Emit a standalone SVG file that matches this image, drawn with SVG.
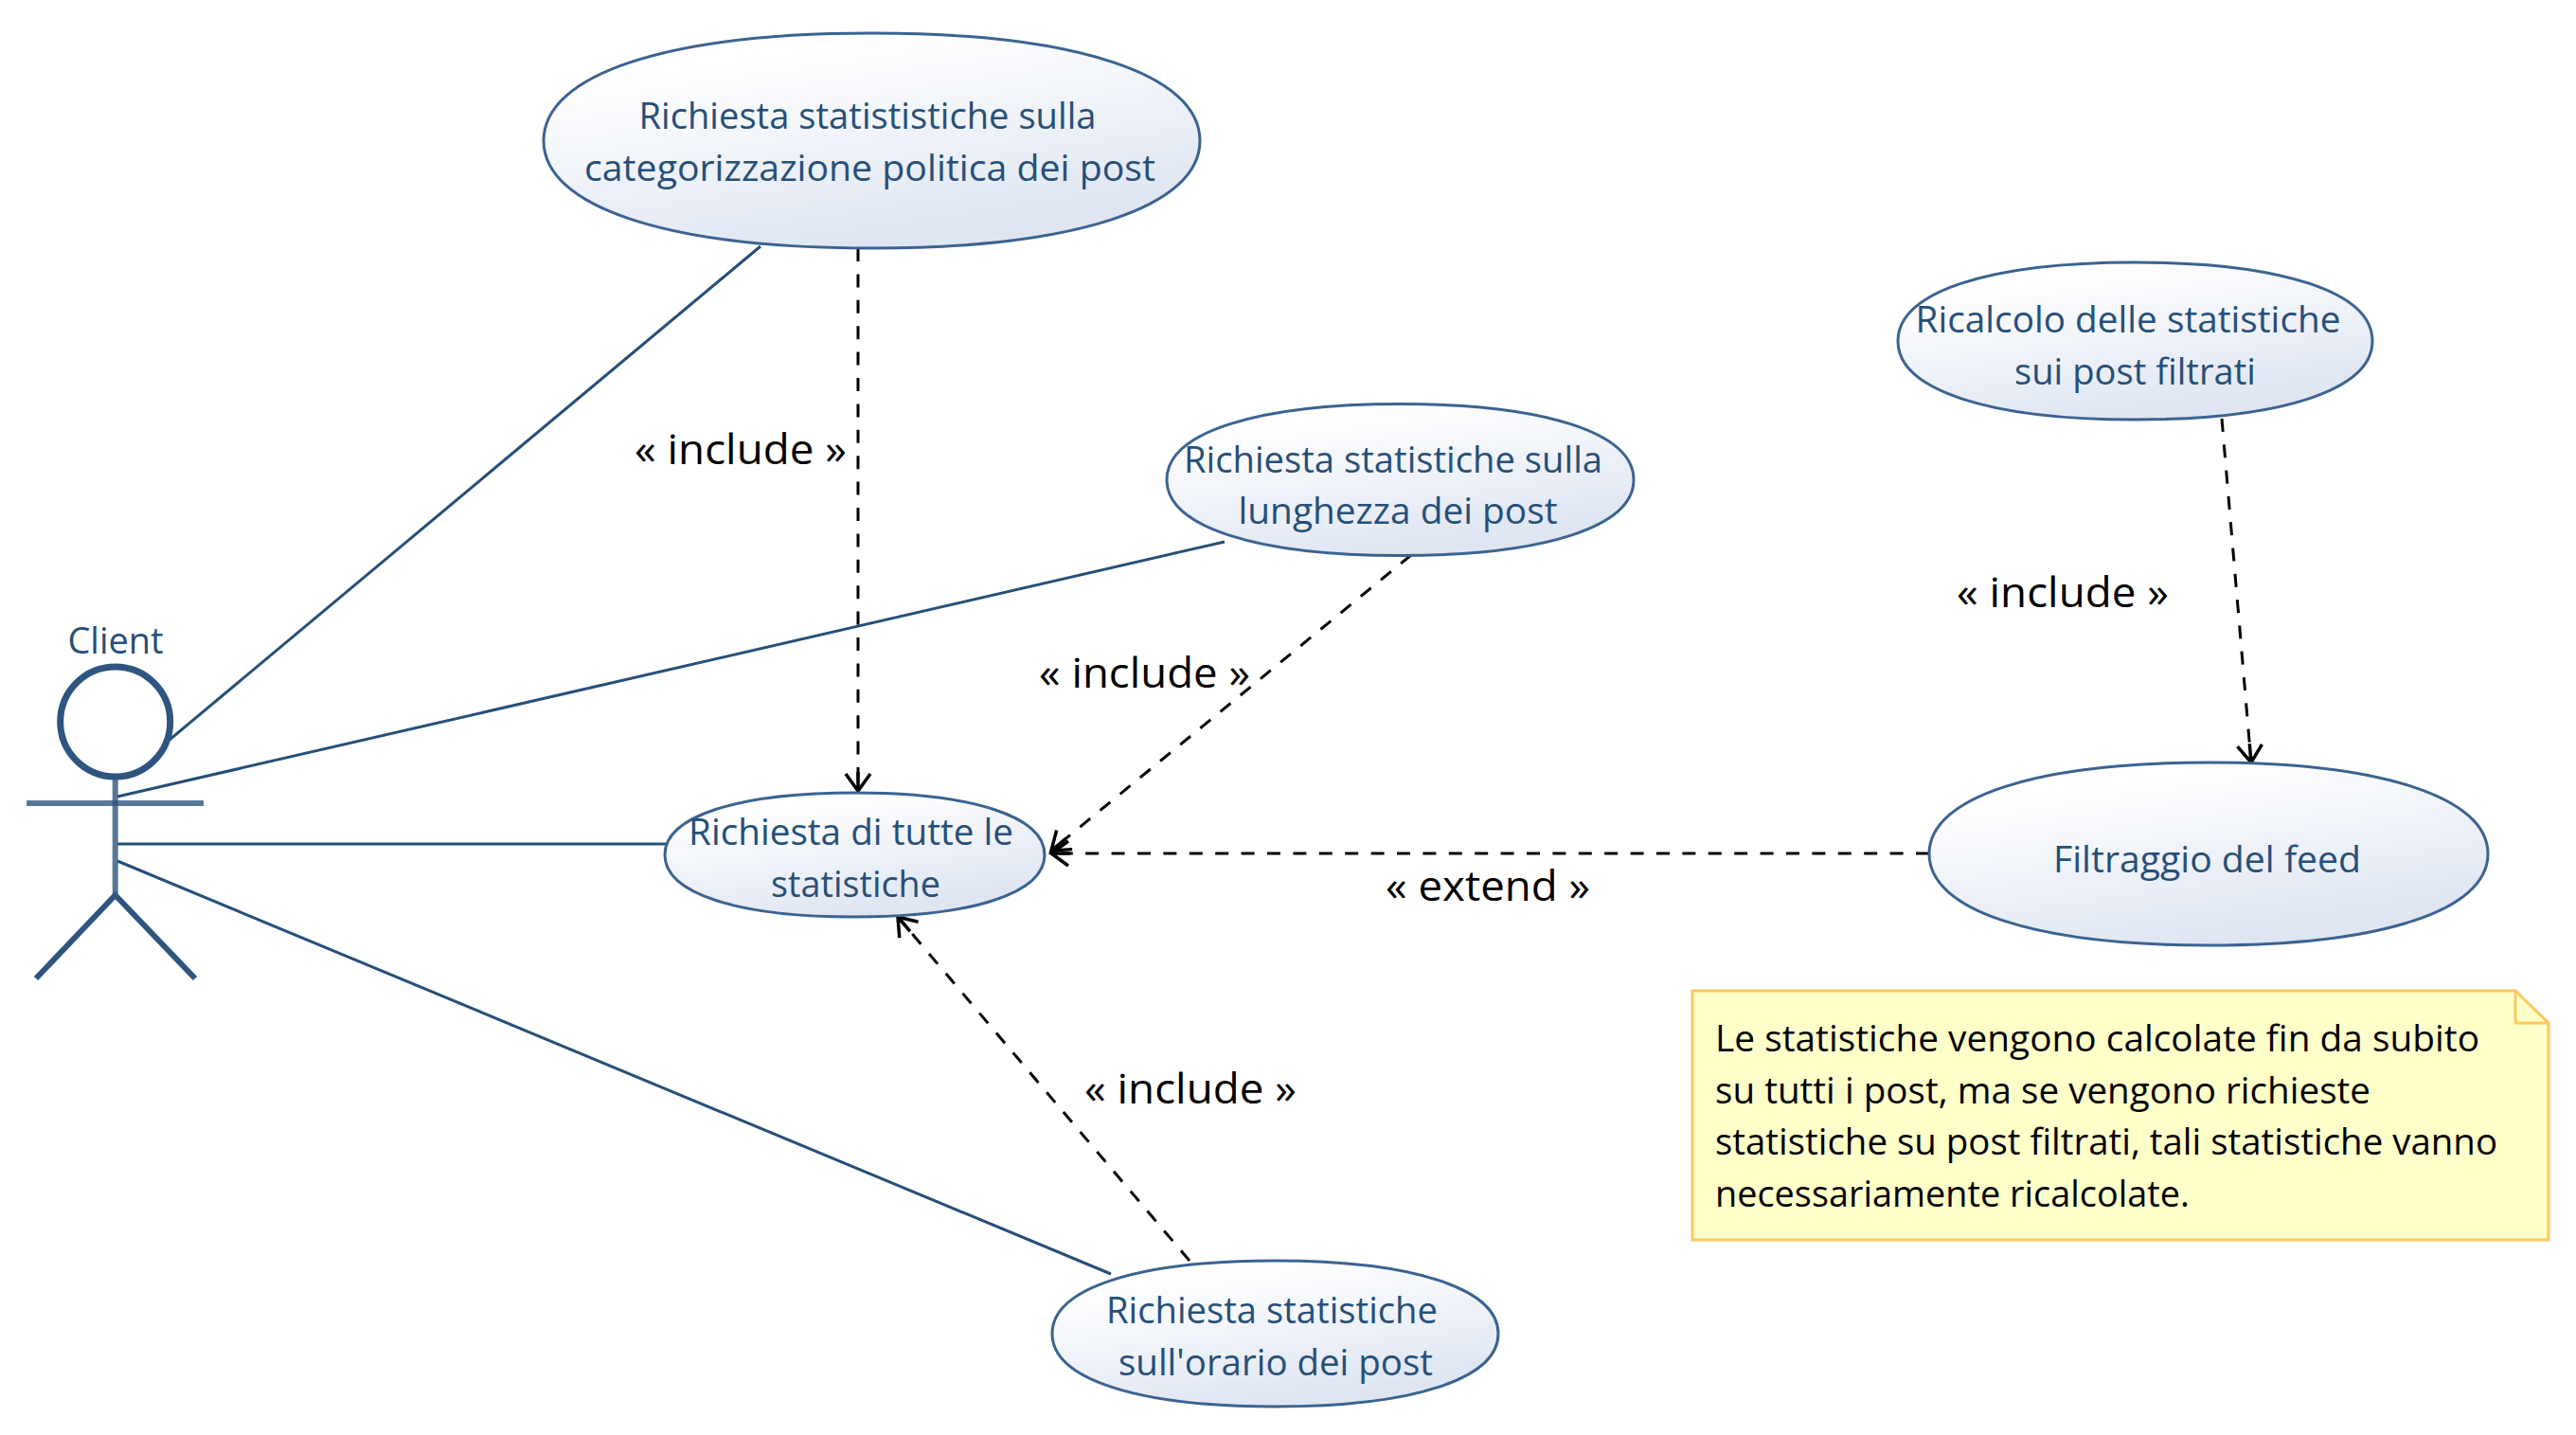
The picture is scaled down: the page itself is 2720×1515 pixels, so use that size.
<svg xmlns="http://www.w3.org/2000/svg" width="2720" height="1515" viewBox="0 0 2720 1515">
<style>
text{font-family:"Open Sans","Noto Sans","Liberation Sans",sans-serif;font-size:39px;fill:#264f78}
.lbl{font-size:44px;fill:#000}
.nt{fill:#000}
.uc{fill:url(#g);stroke:#3b6390;stroke-width:3}
.a{stroke:#264f78;stroke-width:3;fill:none}
.d{stroke:#000;stroke-width:3;fill:none;stroke-dasharray:14 13.4;marker-end:url(#o)}
.act{stroke:#2d5580;stroke-width:6;fill:none}
</style>
<defs>
<linearGradient id="g" x1="0.25" y1="0" x2="0.7" y2="1"><stop offset="0.1" stop-color="#fff"/><stop offset="0.9" stop-color="#dfe6f2"/></linearGradient>
<marker id="o" markerUnits="userSpaceOnUse" markerWidth="40" markerHeight="40" refX="20" refY="20" orient="auto" overflow="visible"><path d="M2,7L20,20L2,33M0,20H20" fill="none" stroke="#000" stroke-width="3.5"/></marker>
</defs>
<rect width="2720" height="1515" fill="#fff"/>
<g id="connectors">
<path class="a" d="M179,781L803,260"/>
<path class="a" d="M124,841L1293,572"/>
<path class="a" d="M124,891L704,891"/>
<path class="a" d="M124,909L1173,1345"/>
<path class="d" d="M906,262L906,835"/>
<path class="d" d="M1490,586L1110,898"/>
<path class="d" d="M2037,901L1110,901"/>
<path class="d" d="M2346,442L2377,805"/>
<path class="d" d="M1256,1331L948,968"/>
<text class="lbl" x="670" y="489.5" textLength="224" lengthAdjust="spacingAndGlyphs">« include »</text>
<text class="lbl" x="1097" y="725.5" textLength="223" lengthAdjust="spacingAndGlyphs">« include »</text>
<text class="lbl" x="2066" y="640.5" textLength="224" lengthAdjust="spacingAndGlyphs">« include »</text>
<text class="lbl" x="1145" y="1164.5" textLength="224" lengthAdjust="spacingAndGlyphs">« include »</text>
<text class="lbl" x="1463" y="950.5" textLength="216" lengthAdjust="spacingAndGlyphs">« extend »</text>
</g>
<g id="actor-client">
<circle class="act" style="stroke-width:7" cx="121.7" cy="762" r="58"/>
<path class="act" d="M121.7,820V945" opacity=".8"/>
<path class="act" d="M28,848H215" opacity=".8"/>
<path class="act" d="M38,1033L121.7,945L206,1033"/>
<text x="71.5" y="690" textLength="101" lengthAdjust="spacingAndGlyphs">Client</text>
</g>
<g id="uc-categorizzazione">
<path class="uc" d="M574,148.5C574,78.1 705.7,35 920.5,35C1135.3,35 1267,78.1 1267,148.5C1267,218.9 1135.3,262 920.5,262C705.7,262 574,218.9 574,148.5Z"/>
<text x="674.5" y="136" textLength="483" lengthAdjust="spacingAndGlyphs">Richiesta statististiche sulla</text>
<text x="617" y="191" textLength="603" lengthAdjust="spacingAndGlyphs">categorizzazione politica dei post</text>
</g>
<g id="uc-lunghezza">
<path class="uc" d="M1232,506.5C1232,456.9 1325.7,426.5 1478.5,426.5C1631.3,426.5 1725,456.9 1725,506.5C1725,556.1 1631.3,586.5 1478.5,586.5C1325.7,586.5 1232,556.1 1232,506.5Z"/>
<text x="1250" y="498.5" textLength="442" lengthAdjust="spacingAndGlyphs">Richiesta statistiche sulla</text>
<text x="1307.5" y="552.5" textLength="337" lengthAdjust="spacingAndGlyphs">lunghezza dei post</text>
</g>
<g id="uc-tutte">
<path class="uc" d="M702,902.5C702,861.9 778.2,837 902.5,837C1026.8,837 1103,861.9 1103,902.5C1103,943.1 1026.8,968 902.5,968C778.2,968 702,943.1 702,902.5Z"/>
<text x="727" y="892" textLength="343" lengthAdjust="spacingAndGlyphs">Richiesta di tutte le</text>
<text x="814" y="947" textLength="179" lengthAdjust="spacingAndGlyphs">statistiche</text>
</g>
<g id="uc-orario">
<path class="uc" d="M1111,1408C1111,1360.3 1200,1331 1346.5,1331C1492.5,1331 1582,1360.3 1582,1408C1582,1455.7 1492.5,1485 1346.5,1485C1200,1485 1111,1455.7 1111,1408Z"/>
<text x="1168" y="1397" textLength="350" lengthAdjust="spacingAndGlyphs">Richiesta statistiche</text>
<text x="1181" y="1451.5" textLength="332" lengthAdjust="spacingAndGlyphs">sull'orario dei post</text>
</g>
<g id="uc-ricalcolo">
<path class="uc" d="M2004,360C2004,308.5 2099.2,277 2254.5,277C2409.8,277 2505,308.5 2505,360C2505,411.5 2409.8,443 2254.5,443C2099.2,443 2004,411.5 2004,360Z"/>
<text x="2022.5" y="351" textLength="449" lengthAdjust="spacingAndGlyphs">Ricalcolo delle statistiche</text>
<text x="2127" y="405.5" textLength="255" lengthAdjust="spacingAndGlyphs">sui post filtrati</text>
</g>
<g id="uc-filtraggio">
<path class="uc" d="M2037,901.5C2037,841.7 2149.1,805 2332,805C2514.9,805 2627,841.7 2627,901.5C2627,961.3 2514.9,998 2332,998C2149.1,998 2037,961.3 2037,901.5Z"/>
<text x="2168" y="921" textLength="325" lengthAdjust="spacingAndGlyphs">Filtraggio del feed</text>
</g>
<g id="note">
<path d="M1787,1046H2656L2691,1080V1309H1787Z" fill="#ffffc9" stroke="#fcc85e" stroke-width="3"/>
<path d="M2656,1046V1080H2691" fill="none" stroke="#fcc85e" stroke-width="3"/>
<text class="nt" x="1811" y="1109.5" textLength="807" lengthAdjust="spacingAndGlyphs">Le statistiche vengono calcolate fin da subito</text>
<text class="nt" x="1811" y="1165" textLength="692" lengthAdjust="spacingAndGlyphs">su tutti i post, ma se vengono richieste</text>
<text class="nt" x="1811" y="1219" textLength="826" lengthAdjust="spacingAndGlyphs">statistiche su post filtrati, tali statistiche vanno</text>
<text class="nt" x="1811" y="1273.5" textLength="501" lengthAdjust="spacingAndGlyphs">necessariamente ricalcolate.</text>
</g>
</svg>
